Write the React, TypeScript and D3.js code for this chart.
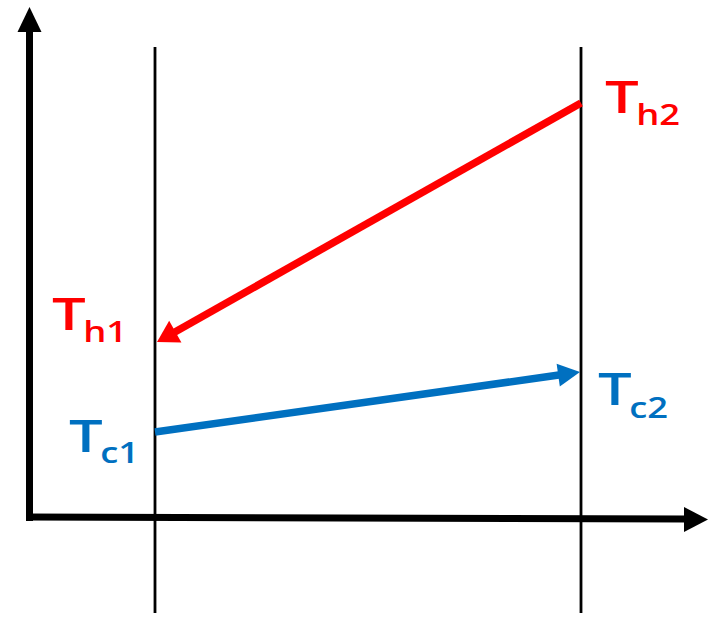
import React from "react";
import * as d3 from "d3";

// Exchanger ends: inlet (left) and outlet (right)
const stations = ["inlet", "outlet"];
// Hot stream temperature falls from outlet-side Th2 to Th1
const hotValues = [35, 82.8];
const hotLabels = ["h1", "h2"];
// Cold stream temperature rises from Tc1 to Tc2
const coldValues = [17, 28.8];
const coldLabels = ["c1", "c2"];

const W = 712;
const H = 617;
const RED = "#ff0000";
const BLUE = "#0070c0";
const FONT = "'Open Sans', 'DejaVu Sans', sans-serif";

type Pt = [number, number];

export default function App() {
  const x = d3.scalePoint<string>().domain(stations).range([155, 581]);
  const y = d3.scaleLinear().domain([0, 100]).range([517, 17]);

  const hotPts: Pt[] = stations.map((s, i) => [x(s)!, y(hotValues[i])]);
  const coldPts: Pt[] = stations.map((s, i) => [x(s)!, y(coldValues[i])]);

  // hot arrow runs from outlet back to inlet, tip just right of the inlet line
  const hotFrom = hotPts[1];
  const hotTo: Pt = [hotPts[0][0] + 2, hotPts[0][1]];
  const coldFrom = coldPts[0];
  const coldTo: Pt = [coldPts[1][0] - 1, coldPts[1][1] - 1];

  const line = d3.line();

  const arrowHead = (from: Pt, to: Pt, len: number, half: number) => {
    const dx = to[0] - from[0];
    const dy = to[1] - from[1];
    const d = Math.hypot(dx, dy);
    const ux = dx / d, uy = dy / d;
    const bx = to[0] - ux * len, by = to[1] - uy * len;
    const px = -uy, py = ux;
    return `M${to[0]},${to[1]}L${bx + px * half},${by + py * half}L${bx - px * half},${by - py * half}Z`;
  };

  const shorten = (from: Pt, to: Pt, len: number): Pt => {
    const dx = to[0] - from[0];
    const dy = to[1] - from[1];
    const d = Math.hypot(dx, dy);
    return [to[0] - (dx / d) * len, to[1] - (dy / d) * len];
  };

  // "T" with a subscript, stretched sideways for a broad hand-lettered look
  const label = (key: string, tx: number, ty: number, sub: string, subDy: number, color: string) => (
    <g key={key} transform={`translate(${tx},${ty}) scale(1.3,1)`}>
      <text x={0} y={0} fill={color} fontFamily={FONT} fontWeight={600}>
        <tspan fontSize={46}>T</tspan>
        <tspan fontSize={28} dx={-2} dy={subDy}>{sub}</tspan>
      </text>
    </g>
  );

  return (
    <svg width={W} height={H} style={{ position: "absolute", left: 0, top: 0, background: "#fff" }}>
      {/* vertical station lines */}
      {stations.map((s) => (
        <line key={s} x1={x(s)} x2={x(s)} y1={47} y2={613} stroke="#000" strokeWidth={2.8} />
      ))}

      {/* axes */}
      <line x1={29.5} x2={29.5} y1={521} y2={28} stroke="#000" strokeWidth={7} />
      <path d="M29.5,7L41.5,32L17.5,32Z" fill="#000" />
      <line x1={26} x2={686} y1={517} y2={519} stroke="#000" strokeWidth={7} />
      <path d="M708,519.5L684,507L684,532Z" fill="#000" />

      {/* hot stream */}
      <path d={line([hotFrom, shorten(hotFrom, hotTo, 16)])!} stroke={RED} strokeWidth={7.5} fill="none" />
      <path d={arrowHead(hotFrom, hotTo, 21, 12.5)} fill={RED} />

      {/* cold stream */}
      <path d={line([coldFrom, shorten(coldFrom, coldTo, 16)])!} stroke={BLUE} strokeWidth={7.5} fill="none" />
      <path d={arrowHead(coldFrom, coldTo, 22, 11.5)} fill={BLUE} />

      {label("h2", 605, 113, hotLabels[1], 12, RED)}
      {label("h1", 52, 330, hotLabels[0], 12, RED)}
      {label("c1", 69, 452, coldLabels[0], 11, BLUE)}
      {label("c2", 598, 405, coldLabels[1], 13, BLUE)}
    </svg>
  );
}
